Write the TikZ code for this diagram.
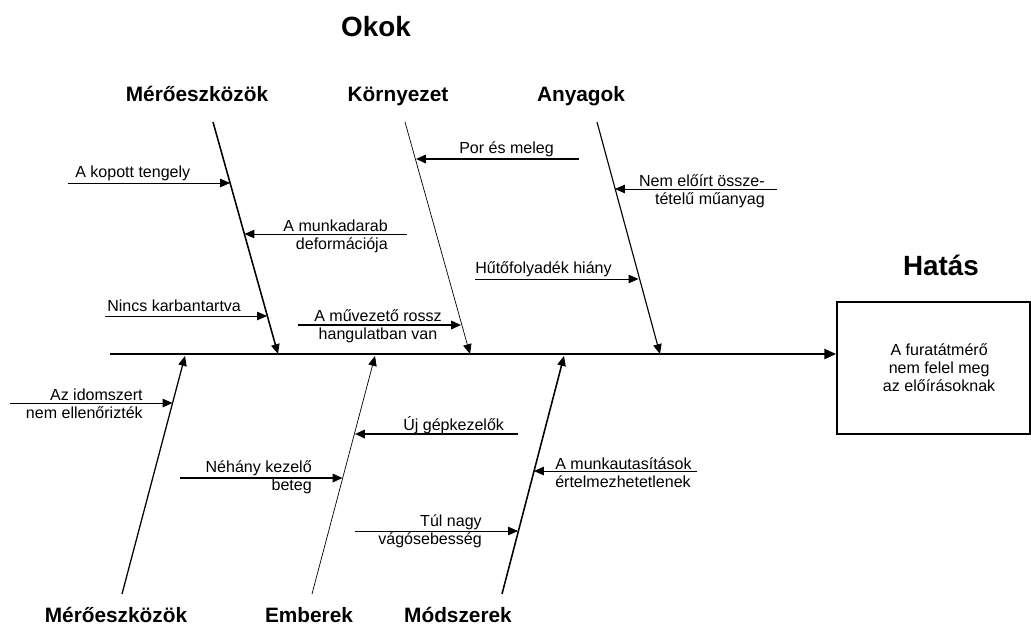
\documentclass[tikz,border=0pt]{standalone}
\usepackage{fontspec}
\setmainfont{Liberation Sans}
\usetikzlibrary{arrows.meta}

\tikzset{
  cause/.style={font=\fontsize{11.4}{12.8}\selectfont, inner sep=0pt},
  group/.style={font=\fontsize{14.8}{17}\selectfont\bfseries, inner sep=0pt, anchor=base},
  title/.style={font=\fontsize{19.8}{22}\selectfont\bfseries, inner sep=0pt, anchor=base},
  effect/.style={draw, line width=1pt, minimum width=4.825cm, minimum height=3.3cm,
    align=center, font=\fontsize{11.4}{12.8}\selectfont},
  spine/.style={line width=2pt, -{Triangle[length=8.5pt,width=7pt]}},
  bone/.style={-{Triangle[length=7pt,width=6pt]}},
  thin/.style={line width=0.6pt, -{Triangle[length=7pt,width=6pt]}},
  thick/.style={line width=1.3pt, -{Triangle[length=7pt,width=6pt]}}
}

\begin{document}
\begin{tikzpicture}[x=0.025cm,y=-0.025cm]
    \useasboundingbox (0,0) rectangle (1031,626);

    % cimek
    \node[title] (okok)  at (376,36)  {Okok};
    \node[title] (hatas) at (941,275) {Hatás};
    \node[group] (gm1) at (197,101) {Mérőeszközök};
    \node[group] (gk)  at (398,101) {Környezet};
    \node[group] (ga)  at (581,101) {Anyagok};
    \node[group] (gm2) at (116,622) {Mérőeszközök};
    \node[group] (ge)  at (309,622) {Emberek};
    \node[group] (gmo) at (458,622) {Módszerek};

    % gerinc es hatas
    \node[effect] (okozat) at (933.5,368) {\hspace*{8pt}A furatátmérő\\\hspace*{8pt}nem felel meg\\\hspace*{8pt}az előírásoknak};
    \coordinate (farok) at (110,354);
    \draw[spine] (farok) -- (farok -| okozat.west);

    % csontok
    \coordinate (fm1) at (213,122);  \coordinate (vm1) at (278,354);
    \coordinate (fk)  at (405,122);  \coordinate (vk)  at (470,354);
    \coordinate (fa)  at (597,122);  \coordinate (va)  at (660,354);
    \coordinate (fm2) at (122,594);  \coordinate (vm2) at (185,356);
    \coordinate (fe)  at (312,594);  \coordinate (ve)  at (375,356);
    \coordinate (fmo) at (502,594);  \coordinate (vmo) at (564,356);
    \draw[bone, line width=1.1pt] (fm1) -- (vm1);
    \draw[bone, line width=0.5pt] (fk)  -- (vk);
    \draw[bone, line width=0.8pt] (fa)  -- (va);
    \draw[bone, line width=0.9pt] (fm2) -- (vm2);
    \draw[bone, line width=0.5pt] (fe)  -- (ve);
    \draw[bone, line width=1.1pt] (fmo) -- (vmo);

    % okok - felso
    \node[cause, anchor=west] (kopott) at (75,173) {A kopott tengely};
    \coordinate (kopott1) at (68,183);  \coordinate (kopott2) at (230,183);
    \draw[thin] (kopott1) -- (kopott2);

    \node[cause, anchor=east, align=right] (defor) at (388,236) {A munkadarab\\deformációja};
    \coordinate (defor1) at (407,234);  \coordinate (defor2) at (244.5,234);
    \draw[thin] (defor1) -- (defor2);

    \node[cause, anchor=west] (karb) at (107,306) {Nincs karbantartva};
    \coordinate (karb1) at (105,316);  \coordinate (karb2) at (267,316);
    \draw[thin] (karb1) -- (karb2);

    \node[cause, align=center] (hang) at (378,326.5) {A művezető rossz\\hangulatban van};
    \coordinate (hang1) at (298,325);  \coordinate (hang2) at (461,325);
    \draw[thick] (hang1) -- (hang2);

    \node[cause, anchor=west] (por) at (459,149) {Por és meleg};
    \coordinate (por1) at (579,159);  \coordinate (por2) at (416,159);
    \draw[thick] (por1) -- (por2);

    \node[cause, anchor=east, align=right] (muany) at (765,191) {Nem előírt össze-\\tételű műanyag};
    \coordinate (muany1) at (777,189);  \coordinate (muany2) at (615,189);
    \draw[thin] (muany1) -- (muany2);

    \node[cause, anchor=west] (hutes) at (475,269) {Hűtőfolyadék hiány};
    \coordinate (hutes1) at (475,279);  \coordinate (hutes2) at (638.5,279);
    \draw[thin] (hutes1) -- (hutes2);

    % okok - also
    \node[cause, anchor=east, align=right] (idom) at (143,404) {Az idomszert\\nem ellenőrizték};
    \coordinate (idom1) at (10,403);  \coordinate (idom2) at (172.5,403);
    \draw[thin] (idom1) -- (idom2);

    \node[cause, anchor=west] (uj) at (403,425) {Új gépkezelők};
    \coordinate (uj1) at (518,434);  \coordinate (uj2) at (355,434);
    \draw[thick] (uj1) -- (uj2);

    \node[cause, anchor=east, align=right] (beteg) at (312,477.5) {Néhány kezelő\\beteg};
    \coordinate (beteg1) at (180,478);  \coordinate (beteg2) at (342.5,478);
    \draw[thick] (beteg1) -- (beteg2);

    \node[cause, anchor=west, align=left] (utas) at (555,472.5) {A munkautasítások\\értelmezhetetlenek};
    \coordinate (utas1) at (697,471);  \coordinate (utas2) at (534,471);
    \draw[thin] (utas1) -- (utas2);

    \node[cause, anchor=east, align=right] (vago) at (482,531) {Túl nagy\\vágósebesség};
    \coordinate (vago1) at (355,531);  \coordinate (vago2) at (518,531);
    \draw[thin] (vago1) -- (vago2);
\end{tikzpicture}
\end{document}
